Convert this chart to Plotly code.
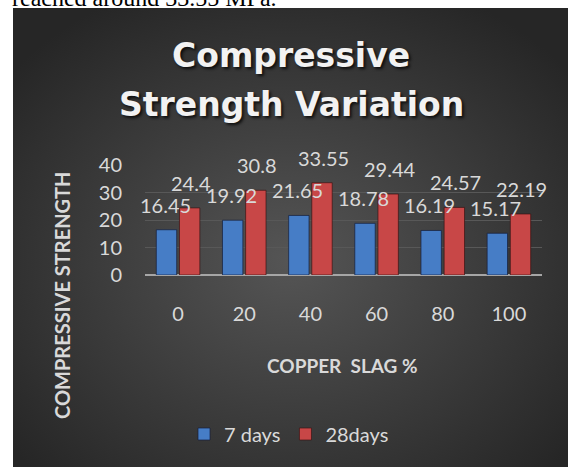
import base64
import plotly.graph_objects as go

# ---- data ----
categories = ["0", "20", "40", "60", "80", "100"]
days7 = [16.45, 19.92, 21.65, 18.78, 16.19, 15.17]
days28 = [24.4, 30.8, 33.55, 29.44, 24.57, 22.19]
series_names = ["7 days", "28days"]
title_lines = ["Compressive", "Strength Variation"]
x_title = "COPPER  SLAG %"
y_title = "COMPRESSIVE STRENGTH"
caption_above = "reached around 33.55 MPa."

W, H = 568, 467


def px(x):
    return x / W


def py(y):
    return 1 - y / H


BLUE = "#467dc6"
RED = "#c84747"
LABEL = "#d9d9d9"

fig = go.Figure()
fig.add_trace(go.Bar(x=categories, y=days7, name=series_names[0],
                     marker=dict(color=BLUE, line=dict(color="rgba(20,30,60,0.7)", width=1))))
fig.add_trace(go.Bar(x=categories, y=days28, name=series_names[1],
                     marker=dict(color=RED, line=dict(color="rgba(60,20,20,0.7)", width=1))))

annotations = []
for vals, shift in ((days7, -13), (days28, 13)):
    for idx, v in enumerate(vals):
        annotations.append(dict(x=idx, y=v, xref="x", yref="y", text=str(v), showarrow=False,
                                xshift=shift, yshift=25, yanchor="middle",
                                font=dict(family="Lato", size=20, color=LABEL)))

title_font = dict(family="DejaVu Sans", size=33, color="#f2f2f2", weight="bold",
                  shadow="2px 2px 3px rgba(0,0,0,0.75)")
annotations.append(dict(x=px(291), y=py(55), xref="paper", yref="paper", text=title_lines[0],
                        showarrow=False, xanchor="center", yanchor="middle", font=title_font))
annotations.append(dict(x=px(291), y=py(104), xref="paper", yref="paper", text=title_lines[1],
                        showarrow=False, xanchor="center", yanchor="middle", font=title_font))
axis_title_font = dict(family="Lato", size=19, color=LABEL, weight="bold")
annotations.append(dict(x=px(342), y=py(365), xref="paper", yref="paper", text=x_title,
                        showarrow=False, xanchor="center", yanchor="middle", font=axis_title_font))
annotations.append(dict(x=px(62), y=py(295), xref="paper", yref="paper", text=y_title,
                        showarrow=False, textangle=-90, xanchor="center", yanchor="middle",
                        font=dict(family="Lato", size=20, color=LABEL, weight="bold")))
annotations.append(dict(x=px(10), y=py(13), xref="paper", yref="paper", text=caption_above,
                        showarrow=False, xanchor="left", yanchor="bottom",
                        font=dict(family="Liberation Serif", size=24, color="#000000")))

svg = (
    "<svg xmlns='http://www.w3.org/2000/svg' width='555' height='459'>"
    "<defs><radialGradient id='g' cx='50%' cy='55%' r='65%'>"
    "<stop offset='0' stop-color='#555555'/><stop offset='1' stop-color='#262626'/>"
    "</radialGradient></defs>"
    "<rect width='555' height='459' fill='url(#g)'/></svg>"
)
src = "data:image/svg+xml;base64," + base64.b64encode(svg.encode()).decode()

fig.update_layout(
    template="none",
    width=W, height=H,
    margin=dict(l=0, r=0, t=0, b=0),
    paper_bgcolor="#ffffff",
    plot_bgcolor="rgba(0,0,0,0)",
    barmode="group", bargap=0.3, bargroupgap=0.12,
    showlegend=True,
    legend=dict(orientation="h", x=px(289), xanchor="center", y=py(434), yanchor="middle",
                font=dict(family="Lato", size=20, color=LABEL), bgcolor="rgba(0,0,0,0)"),
    xaxis=dict(domain=[px(145), px(542)], type="category", range=[-0.5, 5.5],
               showgrid=False, zeroline=False, showline=False, ticks="",
               tickfont=dict(family="Lato", size=20, color=LABEL), ticklabelstandoff=25,
               automargin=False),
    yaxis=dict(domain=[py(275), py(165)], range=[0, 40], dtick=10,
               showgrid=True, gridcolor="#585858", gridwidth=1,
               zeroline=True, zerolinecolor="#a6a6a6", zerolinewidth=2,
               showline=False, ticks="",
               tickfont=dict(family="Lato", size=20, color=LABEL), ticklabelstandoff=22,
               automargin=False),
    annotations=annotations,
    images=[dict(source=src, xref="paper", yref="paper", x=px(13), y=py(8),
                 sizex=555 / W, sizey=459 / H, xanchor="left", yanchor="top",
                 sizing="stretch", layer="below")],
)

fig.write_html("out.html", config={"displayModeBar": False},
               post_script="document.body.style.margin='0';document.body.style.overflow='hidden';")
